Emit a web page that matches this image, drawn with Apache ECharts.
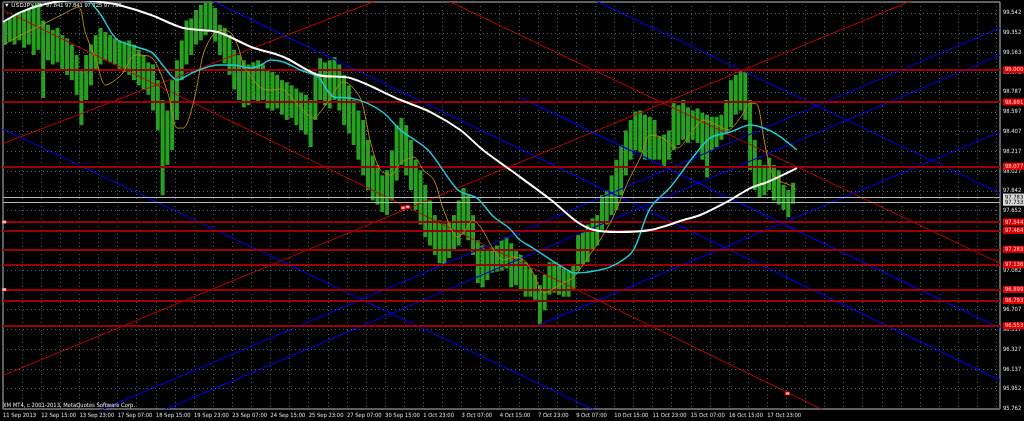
<!DOCTYPE html>
<html><head><meta charset="utf-8">
<script src="https://cdn.jsdelivr.net/npm/echarts@6/dist/echarts.min.js"></script>
<style>html,body{margin:0;padding:0;background:#000;}#c{width:1024px;height:421px;}</style>
</head><body><div id="c"></div>
<script>
// ---- data ----
const timeLabels = ['11 Sep 2013','12 Sep 15:00','13 Sep 23:00','17 Sep 07:00','18 Sep 15:00','19 Sep 23:00','23 Sep 07:00','24 Sep 15:00','25 Sep 23:00','27 Sep 07:00','30 Sep 15:00','1 Oct 23:00','3 Oct 07:00','4 Oct 15:00','7 Oct 23:00','9 Oct 07:00','10 Oct 15:00','11 Oct 23:00','15 Oct 07:00','16 Oct 15:00','17 Oct 23:00'];
const priceTicks = ['95.762','95.952','96.137','96.327','96.517','96.707','96.892','97.082','97.272','97.462','97.652','97.842','98.027','98.217','98.407','98.597','98.787','98.972','99.163','99.352','99.542'];
const levelPrices = ['99.000','98.691','98.077','97.544','97.464','97.283','97.136','96.899','96.793','96.553'];
const askPrice = '97.783';
const bidPrice = '97.733';
const groupBars = 4; // hourly bars per drawn group
const highs = [99.46,99.49,99.52,99.55,99.57,99.59,99.62,99.64,99.47,99.43,99.38,99.40,99.33,99.30,99.24,99.14,99.00,99.14,99.24,99.33,99.40,99.36,99.33,99.30,99.28,99.27,99.28,99.24,99.19,99.14,99.07,99.05,98.90,98.71,98.61,98.90,99.09,99.28,99.47,99.49,99.57,99.62,99.64,99.67,99.59,99.43,99.40,99.33,99.19,99.14,99.09,99.05,99.07,99.09,99.05,99.00,98.98,98.95,98.90,98.88,98.85,98.82,98.78,98.76,98.71,98.95,99.11,99.07,99.09,99.12,99.05,98.95,98.85,98.71,98.61,98.52,98.33,98.18,98.09,97.99,98.04,98.23,98.47,98.54,98.47,98.33,98.14,98.04,97.90,97.75,97.61,97.56,97.53,97.54,97.61,97.75,97.87,97.80,97.61,97.37,97.32,97.28,97.30,97.32,97.37,97.40,97.34,97.28,97.23,97.16,97.10,97.04,96.94,97.04,97.16,97.16,97.13,97.10,97.08,97.13,97.42,97.47,97.52,97.58,97.61,97.80,97.85,97.99,98.14,98.28,98.42,98.52,98.60,98.61,98.57,98.55,98.52,98.36,98.38,98.42,98.68,98.66,98.71,98.64,98.61,98.63,98.59,98.57,98.55,98.55,98.57,98.71,98.90,98.95,99.00,98.98,98.71,98.33,98.14,98.09,98.16,98.09,98.04,97.90,97.85,97.92];
const lows = [99.24,99.27,99.24,99.28,99.21,99.24,99.14,99.19,98.73,99.09,99.05,99.07,99.00,98.95,98.90,98.76,98.47,98.71,98.85,99.00,99.05,99.09,99.07,99.05,99.00,98.98,98.95,98.90,98.85,98.81,98.76,98.61,98.42,97.80,98.09,98.23,98.52,98.90,99.05,99.14,99.24,99.28,99.33,99.38,99.27,99.14,99.06,98.95,98.81,98.71,98.64,98.66,98.71,98.68,98.71,98.63,98.61,98.63,98.57,98.52,98.54,98.47,98.42,98.38,98.26,98.52,98.71,98.66,98.63,98.71,98.61,98.47,98.39,98.28,98.14,97.99,97.85,97.75,97.71,97.64,97.61,97.75,97.94,98.09,97.99,97.85,97.66,97.52,97.40,97.32,97.23,97.15,97.13,97.20,97.28,97.32,97.42,97.37,97.23,96.96,96.92,96.99,97.06,97.07,97.08,97.10,96.92,96.94,96.89,96.83,96.83,96.80,96.56,96.70,96.85,96.87,96.85,96.83,96.83,96.89,97.08,97.13,97.16,97.28,97.32,97.47,97.52,97.61,97.66,97.80,97.99,98.14,98.23,98.21,98.14,98.14,98.14,98.14,98.07,98.14,98.23,98.28,98.33,98.30,98.33,98.30,98.14,97.97,98.23,98.26,98.33,98.38,98.45,98.57,98.61,98.52,98.04,97.85,97.78,97.80,97.85,97.75,97.71,97.66,97.59,97.72];
const slowMA = [[0,99.456],[15,99.551],[32,99.618],[49,99.656],[65,99.666],[82,99.647],[97,99.618],[124,99.523],[151,99.398],[180,99.360],[208,99.217],[235,99.121],[264,98.949],[291,98.920],[333,98.710],[358,98.595],[383,98.423],[402,98.232],[425,98.041],[459,97.754],[481,97.544],[495,97.467],[515,97.448],[542,97.467],[570,97.563],[584,97.611],[609,97.754],[626,97.869],[640,97.926],[665,98.060]];
const midMA = [[72,99.666],[82,99.523],[96,99.284],[124,99.169],[135,99.025],[146,98.901],[160,98.978],[180,99.045],[193,99.045],[208,99.016],[216,99.045],[224,99.093],[235,99.073],[249,98.997],[264,98.930],[277,98.739],[291,98.729],[305,98.681],[319,98.586],[333,98.423],[356,98.232],[381,97.850],[397,97.773],[411,97.592],[423,97.496],[433,97.372],[444,97.295],[459,97.181],[473,97.085],[478,97.056],[500,97.085],[515,97.152],[528,97.276],[542,97.678],[559,97.878],[576,98.136],[592,98.347],[609,98.404],[626,98.471],[637,98.442],[649,98.375],[665,98.232]];
const fastMA = [[0,99.236],[15,99.331],[32,99.427],[49,99.523],[63,99.599],[69,99.350],[78,99.092],[86,98.853],[99,98.949],[111,99.140],[124,99.121],[138,98.777],[146,98.442],[151,98.442],[160,98.710],[168,99.159],[177,99.350],[185,99.379],[191,99.350],[197,99.217],[202,99.025],[208,98.930],[216,98.825],[224,98.806],[233,98.815],[241,98.739],[249,98.643],[260,98.538],[269,98.643],[280,98.834],[285,98.882],[291,98.853],[300,98.710],[308,98.299],[316,98.041],[325,97.993],[333,98.108],[344,98.165],[352,98.041],[361,97.945],[369,97.659],[381,97.400],[389,97.496],[393,97.563],[400,97.496],[411,97.276],[419,97.181],[428,97.209],[436,97.181],[444,97.056],[453,96.865],[459,96.894],[469,96.961],[478,97.018],[490,97.209],[500,97.372],[511,97.592],[523,97.917],[534,98.165],[542,98.375],[551,98.356],[565,98.251],[576,98.395],[587,98.519],[598,98.471],[607,98.423],[618,98.548],[626,98.681],[632,98.662],[637,98.356],[643,98.041],[649,97.945],[659,97.897],[665,97.850]];
// trend lines: [bar0, price0, bar1, price1]
const redTrendLines = [[0,99.570,835,94.924],[0,101.681,835,97.149],[0,98.294,835,101.938],[0,96.077,835,100.008]];
const blueTrendLines = [[0,100.622,835,96.033],[0,102.352,835,97.821],[433.5,98.733,835,96.530],[0,98.433,835,93.905],[0,95.349,835,99.398],[0,95.094,835,99.140],[448.5,96.559,835,98.404]];
// line anchors & trade marks: [bar, price]
const levelAnchors = [[1,97.544],[1,96.899]];
const tradeMarks = [[335,97.680],[339,97.690],[657,95.905]];
const titleText = '\u25BC USDJPY,H1  97.841 97.841 97.725 97.733';
const copyrightText = 'XM MT4, c 2001-2013, MetaQuotes Software Corp.';

// ---- chart ----
const FONT_A = "'DejaVu Sans Condensed',sans-serif";
const FONT_B = "'Liberation Sans Narrow','Liberation Sans',sans-serif";
const FS = 5.8;
const xMax = 835, yMin = 95.757, yMax = 99.647;
const chart = echarts.init(document.getElementById('c'), null, {renderer:'canvas'});
const series = [];
series.push({type:'line', data:[], silent:true, z:1,
  markLine:{silent:true, symbol:['none','none'], animation:false, precision:3,
    lineStyle:{color:'#59626c', type:[1,3], width:1},
    label:{show:true, position:'end', distance:3, color:'#e0e0e0', fontSize:FS, fontFamily:FONT_A, formatter:'{b}'},
    data: priceTicks.map(v=>({yAxis:+v, name:v}))}});
redTrendLines.forEach(l=>series.push({type:'line', data:[[l[0],l[1]],[l[2],l[3]]], symbol:'none', silent:true, z:3, clip:true, lineStyle:{color:'#c00000', width:1}}));
blueTrendLines.forEach(l=>series.push({type:'line', data:[[l[0],l[1]],[l[2],l[3]]], symbol:'none', silent:true, z:3, clip:true, lineStyle:{color:'#0000c8', width:1.2}}));
series.push({type:'custom', z:2, silent:true, clip:true,
  data: highs.map((h,i)=>[groupBars/2+groupBars*i, lows[i], h]),
  renderItem:(params, api)=>{
    const x=api.value(0), lo=api.value(1), hi=api.value(2);
    const a=api.coord([x,hi]), b=api.coord([x,lo]);
    const w=api.size([groupBars,0])[0];
    return {type:'rect', shape:{x:a[0]-w/2, y:a[1], width:w-0.8, height:Math.max(1,b[1]-a[1])}, style:{fill:'#26a01e'}};
  }});
series.push({type:'line', data:[], silent:true, z:4,
  markLine:{silent:true, symbol:['none','none'], animation:false, precision:3,
    lineStyle:{color:'#9c0000', type:'solid', width:2},
    label:{show:true, position:'end', distance:3, color:'#ffd0d0', backgroundColor:'#e00000', padding:[1,2,0,2], fontSize:FS, fontFamily:FONT_A, formatter:'{b}'},
    data: levelPrices.map(v=>({yAxis:+v, name:v}))}});
series.push({type:'line', data:[], silent:true, z:4,
  markLine:{silent:true, symbol:['none','none'], animation:false, precision:3,
    lineStyle:{color:'#b8b8b8', type:'solid', width:1},
    label:{show:true, position:'end', distance:3, color:'#000', backgroundColor:'#d8d8d8', padding:[1,2,0,2], fontSize:FS, fontFamily:FONT_A, formatter:'{b}'},
    data: [{yAxis:+askPrice, name:askPrice},{yAxis:+bidPrice, name:bidPrice}]}});
series.push({type:'line', data:fastMA, symbol:'none', smooth:0.3, silent:true, z:5, clip:true, lineStyle:{color:'#b8860b', width:1}});
series.push({type:'line', data:midMA, symbol:'none', smooth:0.3, silent:true, z:5, clip:true, lineStyle:{color:'#20c8d8', width:1.5}});
series.push({type:'line', data:slowMA, symbol:'none', smooth:0.3, silent:true, z:5, clip:true, lineStyle:{color:'#ffffff', width:2}});
series.push({type:'scatter', data:levelAnchors, symbol:'rect', symbolSize:[4,3], silent:true, z:6, itemStyle:{color:'#ffffff', borderColor:'#ff0000', borderWidth:0.5}});
series.push({type:'scatter', data:tradeMarks, symbol:'rect', symbolSize:[4,3], silent:true, z:6, itemStyle:{color:'#ffffff', borderColor:'#ff0000', borderWidth:1}});

chart.setOption({
  animation:false, backgroundColor:'#000',
  grid:{left:2, right:24, top:2, bottom:12, show:true, borderColor:'#bdbdbd', borderWidth:1, backgroundColor:'transparent'},
  xAxis:{type:'value', min:0, max:xMax, interval:16,
    axisLine:{show:false}, axisTick:{show:false},
    splitLine:{show:true, lineStyle:{color:'#59626c', type:[1,3], width:1}},
    axisLabel:{show:true, align:'left', margin:3, color:'#e0e0e0', fontSize:FS, fontFamily:FONT_A,
      formatter:v=>(v%32===0 && timeLabels[v/32]) ? timeLabels[v/32] : ''}},
  yAxis:{type:'value', min:yMin, max:yMax, position:'right', axisLine:{show:false}, axisTick:{show:false}, axisLabel:{show:false}, splitLine:{show:false}},
  graphic:[
    {type:'text', left:4, top:2, z:100, style:{text:titleText, fill:'#e8e8e8', font:FS+'px '+FONT_B}},
    {type:'text', left:3, top:402, z:100, style:{text:copyrightText, fill:'#e8e8e8', font:FS+'px '+FONT_A}}
  ],
  series
});
</script></body></html>
